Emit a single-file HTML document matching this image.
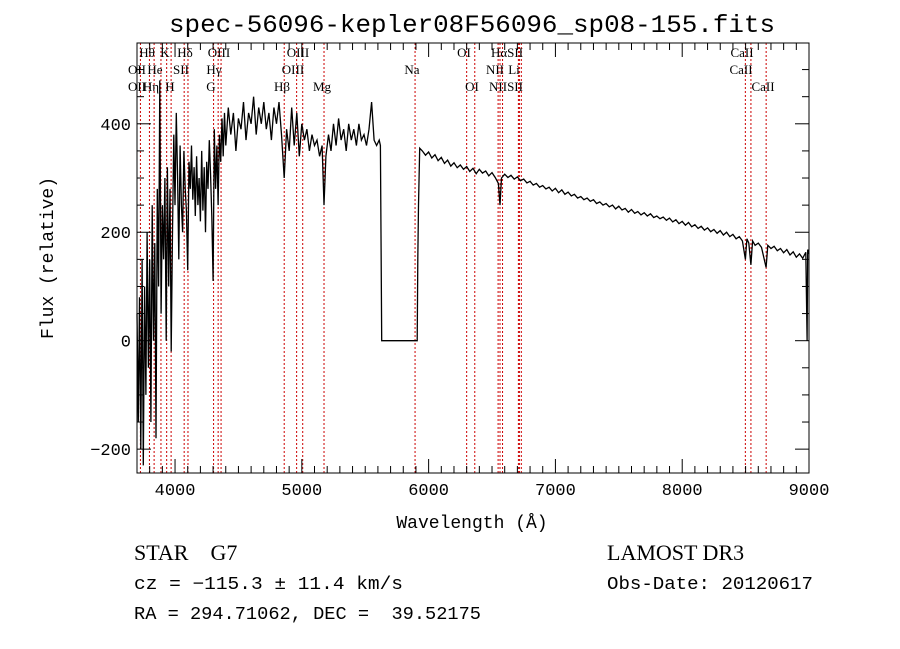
<!DOCTYPE html>
<html><head><meta charset="utf-8"><style>
body{margin:0;background:#fff;}
svg{display:block;}
</style></head><body>
<svg id="chart" width="900" height="649" xmlns="http://www.w3.org/2000/svg">
<rect width="900" height="649" fill="#fff"/>
<text x="472" y="32" text-anchor="middle" textLength="606" lengthAdjust="spacingAndGlyphs" font-family="Liberation Mono, monospace" font-size="25">spec-56096-kepler08F56096_sp08-155.fits</text>
<text x="472" y="528" text-anchor="middle" font-family="Liberation Mono, monospace" font-size="18">Wavelength (Å)</text>
<text transform="translate(53,258) rotate(-90)" text-anchor="middle" font-family="Liberation Mono, monospace" font-size="18">Flux (relative)</text>
<text x="134" y="560" font-family="Liberation Serif, serif" font-size="22" xml:space="preserve" style="white-space:pre">STAR    G7</text>
<text x="607" y="560" font-family="Liberation Serif, serif" font-size="22">LAMOST DR3</text>
<text x="134" y="589" textLength="269" lengthAdjust="spacingAndGlyphs" font-family="Liberation Mono, monospace" font-size="18">cz = −115.3 ± 11.4 km/s</text>
<text x="607" y="589" textLength="206" lengthAdjust="spacingAndGlyphs" font-family="Liberation Mono, monospace" font-size="18">Obs-Date: 20120617</text>
<text x="134" y="619" textLength="347" lengthAdjust="spacingAndGlyphs" font-family="Liberation Mono, monospace" font-size="18" xml:space="preserve" style="white-space:pre">RA = 294.71062, DEC =  39.52175</text>
<g id="lines"></g>
<g id="series"></g>
<g id="axes"></g>
<g id="labels" font-family="Liberation Serif, serif" font-size="13"></g>
</svg>
<script>
const wavelengths=[3700,3710,3720,3730,3740,3750,3760,3770,3780,3790,3800,3810,3820,3830,3840,3850,3860,3870,3880,3890,3900,3910,3920,3930,3940,3950,3960,3970,3980,3990,4000,4010,4020,4030,4040,4050,4060,4070,4080,4090,4100,4110,4120,4130,4140,4150,4160,4170,4180,4190,4200,4210,4220,4230,4240,4250,4260,4270,4280,4290,4300,4310,4320,4330,4340,4350,4360,4370,4380,4390,4400,
4420,4440,4460,4480,4500,4520,4540,4560,4580,4600,4620,4640,4660,4680,4700,4720,4740,4760,4780,4800,4820,4840,4861,4880,4900,4920,4940,4960,4980,5000,5020,5040,5060,5080,5100,5120,5140,5160,5175,5190,5210,5230,5250,5270,5290,5310,5330,5350,5370,5390,5410,5430,5450,5470,5490,5510,5530,5550,5570,5590,5610,5620,5625,5630,5910,5915,5920,5930,
5950,5975,6000,6025,6050,6075,6100,6125,6150,6175,6200,6225,6250,6275,6300,6325,6350,6375,6400,6425,6450,6475,6500,6525,6550,6563,6575,6600,6625,6650,6675,6700,6725,6750,6775,6800,6825,6850,6875,6900,6925,6950,6975,7000,7025,7050,7075,7100,7125,7150,7175,7200,7225,7250,7275,7300,7325,7350,7375,7400,7425,7450,7475,7500,7525,7550,7575,7600,7625,7650,7675,7700,7725,7750,7775,7800,7825,7850,7875,7900,7925,7950,7975,8000,8025,8050,8075,8100,8125,8150,8175,8200,8225,8250,8275,8300,8325,8350,8375,8400,8425,8450,8475,8498,8510,8525,8542,8555,8575,8600,8625,8662,8675,8700,8725,8750,8775,8800,8825,8850,8875,8900,8925,8950,8975,8985,8990,9000];
const flux=[50,-150,80,-200,150,-230,100,-100,200,-50,150,-150,250,0,180,-180,280,100,480,50,250,150,300,0,320,100,280,-20,200,380,250,420,300,150,360,250,200,350,280,240,130,330,280,360,260,320,230,340,250,300,220,350,240,320,200,330,280,370,310,230,110,390,280,360,250,380,330,410,340,420,360,
430,380,420,350,410,390,440,370,420,400,450,380,430,400,440,390,420,370,430,400,440,380,300,390,350,430,360,420,340,400,370,390,350,380,360,370,340,360,250,340,380,350,400,360,410,370,390,350,400,370,390,360,400,370,380,360,390,440,370,360,370,360,170,0,0,150,250,355,
350,342,348,337,343,332,338,327,333,322,328,319,324,316,321,312,318,308,316,309,313,304,310,301,290,250,300,307,301,305,298,302,295,298,291,294,287,290,283,286,280,283,276,281,273,278,270,274,267,270,263,266,260,263,257,260,253,256,250,253,247,250,243,248,241,244,237,242,235,238,232,236,230,234,227,230,225,228,222,226,219,223,216,220,213,218,210,214,207,211,204,208,201,205,198,203,195,200,192,196,188,192,184,150,188,180,140,184,176,180,172,135,176,170,174,166,170,162,168,158,164,154,160,152,163,0,168,160];
const lineWl=[3727,3798,3835,3889,3934,3969,4072,4102,4304,4340,4363,4861,4959,5007,5175,5893,6300,6364,6548,6563,6583,6708,6716,6731,8498,8542,8662];
const xTicks=[4000,5000,6000,7000,8000,9000];
const yTicks=[-200,0,200,400];
const X0=137,X1=809,Y0=43,Y1=473,WMIN=3700,WMAX=9000,FMIN=-244,FMAX=549;
const xs=w=>X0+(w-WMIN)/(WMAX-WMIN)*(X1-X0);
const ys=f=>Y1-(f-FMIN)/(FMAX-FMIN)*(Y1-Y0);
const NS="http://www.w3.org/2000/svg";
function mk(tag,attrs,parent){const e=document.createElementNS(NS,tag);for(const k in attrs)e.setAttribute(k,attrs[k]);document.getElementById(parent).appendChild(e);return e;}
lineWl.forEach(w=>{
  const l=mk('line',{x1:xs(w),x2:xs(w),y1:Y0,y2:Y1,stroke:'#cc0000','stroke-width':1,'stroke-dasharray':'2,2'},'lines');
  
  
});
let d='';
wavelengths.forEach((w,i)=>{d+=(i?'L':'M')+xs(w).toFixed(1)+','+ys(flux[i]).toFixed(1);});
const p=mk('path',{d:d,fill:'none',stroke:'#000','stroke-width':1.3},'series');


const fr=mk('rect',{x:X0,y:Y0,width:X1-X0,height:Y1-Y0,fill:'none',stroke:'#000','stroke-width':1},'axes');


for(let w=3700;w<=9000;w+=100){
  const major=w%1000===0;const len=major?14:7;
  mk('line',{x1:xs(w),x2:xs(w),y1:Y1,y2:Y1-len,stroke:'#000'},'axes');
  mk('line',{x1:xs(w),x2:xs(w),y1:Y0,y2:Y0+len,stroke:'#000'},'axes');
}
for(let f=-200;f<=540;f+=50){
  const major=f%200===0;const len=major?14:7;
  mk('line',{x1:X0,x2:X0+len,y1:ys(f),y2:ys(f),stroke:'#000'},'axes');
  mk('line',{x1:X1,x2:X1-len,y1:ys(f),y2:ys(f),stroke:'#000'},'axes');
}
xTicks.forEach(w=>{const t=mk('text',{x:xs(w),y:Y1+22,'text-anchor':'middle','font-family':'Liberation Mono, monospace','font-size':17},'axes');t.textContent=w;
  
  });
yTicks.forEach(f=>{const t=mk('text',{x:X0-6,y:ys(f)+6,'text-anchor':'end','font-family':'Liberation Mono, monospace','font-size':17},'axes');t.textContent=f<0?'−'+(-f):f;
  
  });
const labs=[['Hθ',147,1],['K',165,1],['Hδ',185,1],['OIII',219,1],['OIII',298,1],['OI',464,1],['HαSII',507,1],['CaII',742,1],
['OII',137,2],['He',155,2],['SII',181,2],['Hγ',214,2],['OIII',293,2],['Na',412,2],['NII',495,2],['Li',514,2],['CaII',741,2],
['OII',137,3],['Hη',151,3],['H',170,3],['G',211,3],['Hβ',282,3],['Mg',322,3],['OI',472,3],['NIISII',506,3],['CaII',763,3]];
labs.forEach(a=>{const t=mk('text',{x:a[1],y:40+a[2]*17,'text-anchor':'middle'},'labels');t.textContent=a[0];
  
  });
</script>
</body></html>
